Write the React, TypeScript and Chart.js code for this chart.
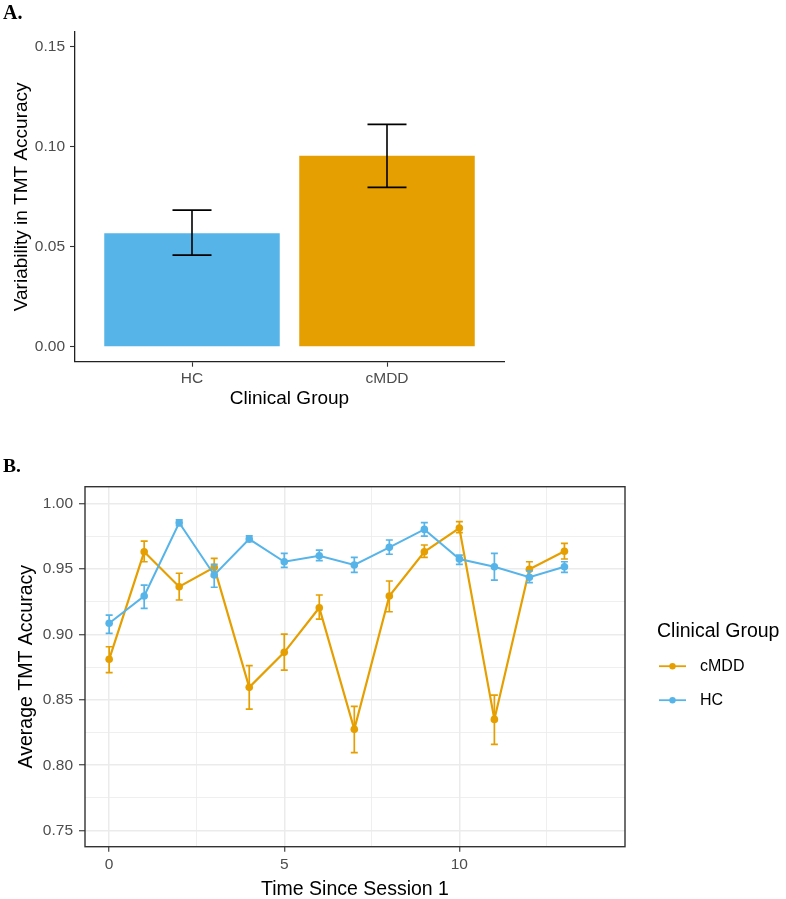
import { useEffect, useRef } from "react";
import { Chart, registerables } from "chart.js";

Chart.register(...registerables);

// Panel A: between-session variability per clinical group
const groups = ["HC", "cMDD"];
const groupPos = [1, 2];
const variability = [0.0567, 0.0955];
const variabilityLo = [0.0458, 0.0797];
const variabilityHi = [0.0683, 0.1112];

// Panel B: mean TMT accuracy per session
const sessions = [0, 1, 2, 3, 4, 5, 6, 7, 8, 9, 10, 11, 12, 13];
const mddMean = [0.8809, 0.963, 0.9363, 0.9511, 0.8595, 0.8862, 0.9203, 0.8274, 0.9292, 0.963, 0.9811, 0.835, 0.9496, 0.9634];
const mddLo = [0.8707, 0.9554, 0.9262, 0.9442, 0.8429, 0.8727, 0.9116, 0.8096, 0.9172, 0.9588, 0.9776, 0.816, 0.944, 0.9575];
const mddHi = [0.8905, 0.9712, 0.9466, 0.958, 0.876, 0.9002, 0.93, 0.8449, 0.9407, 0.9682, 0.986, 0.8536, 0.9554, 0.9694];
const hcMean = [0.9084, 0.9292, 0.9852, 0.9453, 0.9727, 0.9554, 0.96, 0.9529, 0.9664, 0.9801, 0.9575, 0.9516, 0.9435, 0.9516];
const hcLo = [0.9007, 0.9198, 0.9829, 0.9359, 0.9707, 0.9511, 0.9562, 0.9473, 0.9611, 0.975, 0.9534, 0.9414, 0.9394, 0.9473];
const hcHi = [0.9147, 0.9376, 0.9873, 0.9534, 0.9752, 0.9618, 0.9643, 0.9588, 0.972, 0.9852, 0.9605, 0.9618, 0.9485, 0.9554];

const BLUE = "#56B4E9";
const ORANGE = "#E69F00";
const groupColors = [BLUE, ORANGE];
const SANS = "'Liberation Sans', Arial, sans-serif";
const TICK_GREY = "#4d4d4d";

const isMultiple = (v: number, step: number) => Math.abs(v / step - Math.round(v / step)) < 1e-6;

function BarPanel() {
  const ref = useRef<HTMLCanvasElement | null>(null);
  useEffect(() => {
    const errorBars = {
      id: "groupErrorBars",
      afterDatasetsDraw(chart: any) {
        const { ctx } = chart;
        const xs = chart.scales.x;
        const ys = chart.scales.y;
        ctx.save();
        ctx.strokeStyle = "#000";
        ctx.lineWidth = 1.6;
        groupPos.forEach((g, i) => {
          const xc = xs.getPixelForValue(g);
          const xl = xs.getPixelForValue(g - 0.1);
          const xr = xs.getPixelForValue(g + 0.1);
          const yl = ys.getPixelForValue(variabilityLo[i]);
          const yh = ys.getPixelForValue(variabilityHi[i]);
          ctx.beginPath();
          ctx.moveTo(xc, yl);
          ctx.lineTo(xc, yh);
          ctx.moveTo(xl, yh);
          ctx.lineTo(xr, yh);
          ctx.moveTo(xl, yl);
          ctx.lineTo(xr, yl);
          ctx.stroke();
        });
        ctx.restore();
      },
    };

    const chart = new Chart(ref.current as HTMLCanvasElement, {
      type: "bar",
      data: {
        datasets: [
          {
            label: "Variability",
            data: groupPos.map((x, i) => ({ x, y: variability[i] })),
            backgroundColor: groupColors,
            borderWidth: 0,
            barPercentage: 0.9,
            categoryPercentage: 1,
          },
        ],
      },
      options: {
        animation: false,
        responsive: false,
        events: [],
        layout: { padding: { top: 32, right: 282, bottom: 0, left: 0 } },
        plugins: { legend: { display: false }, tooltip: { enabled: false } },
        scales: {
          x: {
            type: "linear",
            offset: false,
            min: 0.4,
            max: 2.6,
            afterFit: (s: any) => {
              s.height = 58.3;
            },
            ticks: {
              stepSize: 1,
              includeBounds: false,
              autoSkip: false,
              maxRotation: 0,
              padding: 3,
              color: TICK_GREY,
              font: { family: SANS, size: 15.5 },
              callback: (v: any) => {
                const i = groupPos.indexOf(Number(v));
                return i >= 0 ? groups[i] : "";
              },
            },
            grid: {
              offset: false,
              drawOnChartArea: false,
              drawTicks: true,
              tickLength: 5,
              tickColor: "#333",
              tickWidth: 1.1,
            },
            border: { display: true, color: "#222", width: 1.3 },
            title: {
              display: true,
              text: "Clinical Group",
              color: "#000",
              font: { family: SANS, size: 19, lineHeight: 1 },
              padding: { top: 0, bottom: 11.5 },
            },
          },
          y: {
            type: "linear",
            min: -0.0075,
            max: 0.1574,
            afterFit: (s: any) => {
              s.width = 75;
            },
            ticks: {
              stepSize: 0.05,
              includeBounds: false,
              padding: 5,
              color: TICK_GREY,
              font: { family: SANS, size: 15.5 },
              callback: (v: any) => Number(v).toFixed(2),
            },
            grid: { drawOnChartArea: false, drawTicks: true, tickLength: 5, tickColor: "#333", tickWidth: 1.1 },
            border: { display: true, color: "#222", width: 1.3 },
            title: {
              display: true,
              text: "Variability in TMT Accuracy",
              color: "#000",
              font: { family: SANS, size: 19, lineHeight: 1.2 },
              padding: { top: 10.3, bottom: 0 },
            },
          },
        },
      } as any,
      plugins: [errorBars],
    });
    return () => chart.destroy();
  }, []);
  return (
    <canvas
      ref={ref}
      width={786}
      height={420}
      style={{ position: "absolute", left: 0, top: 0, width: 786, height: 420 }}
    />
  );
}

function LinePanel() {
  const ref = useRef<HTMLCanvasElement | null>(null);
  useEffect(() => {
    const ranges: Record<string, [number[], number[]]> = {
      cMDD: [mddLo, mddHi],
      HC: [hcLo, hcHi],
    };

    const sessionErrorBars = {
      id: "sessionErrorBars",
      afterDatasetDraw(chart: any, args: any) {
        const ds = chart.data.datasets[args.index];
        const r = ranges[ds.label];
        if (!r) return;
        const { ctx } = chart;
        const xs = chart.scales.x;
        const ys = chart.scales.y;
        ctx.save();
        ctx.strokeStyle = ds.borderColor;
        ctx.lineWidth = 1.7;
        sessions.forEach((t, i) => {
          const xc = xs.getPixelForValue(t);
          const xl = xs.getPixelForValue(t - 0.1);
          const xr = xs.getPixelForValue(t + 0.1);
          const yl = ys.getPixelForValue(r[0][i]);
          const yh = ys.getPixelForValue(r[1][i]);
          ctx.beginPath();
          ctx.moveTo(xc, yl);
          ctx.lineTo(xc, yh);
          ctx.moveTo(xl, yh);
          ctx.lineTo(xr, yh);
          ctx.moveTo(xl, yl);
          ctx.lineTo(xr, yl);
          ctx.stroke();
        });
        ctx.restore();
      },
    };

    const panelFrame = {
      id: "panelFrame",
      afterDraw(chart: any) {
        const { ctx, chartArea: a } = chart;
        ctx.save();
        ctx.strokeStyle = "#333";
        ctx.lineWidth = 1.4;
        ctx.strokeRect(a.left, a.top, a.right - a.left, a.bottom - a.top);

        // legend on the right of the panel
        const lx = a.right + 32;
        ctx.fillStyle = "#000";
        ctx.textAlign = "left";
        ctx.textBaseline = "middle";
        ctx.font = `19.5px ${SANS}`;
        ctx.fillText("Clinical Group", lx, a.top + 145);
        const order = ["cMDD", "HC"];
        order.forEach((name, k) => {
          const ds = chart.data.datasets.find((d: any) => d.label === name);
          const y = a.top + 179.5 + k * 34;
          ctx.strokeStyle = ds.borderColor;
          ctx.lineWidth = 1.8;
          ctx.beginPath();
          ctx.moveTo(lx + 2, y);
          ctx.lineTo(lx + 29, y);
          ctx.stroke();
          ctx.fillStyle = ds.borderColor;
          ctx.beginPath();
          ctx.arc(lx + 15.5, y, 3.2, 0, Math.PI * 2);
          ctx.fill();
          ctx.fillStyle = "#000";
          ctx.font = `16px ${SANS}`;
          ctx.fillText(name, lx + 43, y);
        });
        ctx.restore();
      },
    };

    const gridColor = "#ebebeb";
    const chart = new Chart(ref.current as HTMLCanvasElement, {
      type: "line",
      data: {
        datasets: [
          {
            label: "cMDD",
            data: sessions.map((x, i) => ({ x, y: mddMean[i] })),
            borderColor: ORANGE,
            backgroundColor: ORANGE,
            pointBackgroundColor: ORANGE,
            borderWidth: 2.2,
            pointRadius: 3.8,
            pointBorderWidth: 0,
            tension: 0,
            order: 2,
          },
          {
            label: "HC",
            data: sessions.map((x, i) => ({ x, y: hcMean[i] })),
            borderColor: BLUE,
            backgroundColor: BLUE,
            pointBackgroundColor: BLUE,
            borderWidth: 2,
            pointRadius: 3.8,
            pointBorderWidth: 0,
            tension: 0,
            order: 1,
          },
        ],
      },
      options: {
        animation: false,
        responsive: false,
        events: [],
        layout: { padding: { top: 66.7, right: 161, bottom: 0, left: 0 } },
        plugins: { legend: { display: false }, tooltip: { enabled: false } },
        scales: {
          x: {
            type: "linear",
            min: -0.69,
            max: 14.73,
            afterFit: (s: any) => {
              s.height = 52.3;
            },
            ticks: {
              stepSize: 2.5,
              includeBounds: false,
              autoSkip: false,
              maxRotation: 0,
              padding: 4,
              color: TICK_GREY,
              font: { family: SANS, size: 15.5 },
              callback: (v: any) => (isMultiple(Number(v), 5) ? String(Math.round(Number(v))) : ""),
            },
            grid: {
              drawOnChartArea: true,
              drawTicks: true,
              tickLength: 5,
              color: gridColor,
              lineWidth: (c: any) => (isMultiple(c.tick.value, 5) ? 1.5 : 0.8),
              tickColor: (c: any) => (isMultiple(c.tick.value, 5) ? "#333" : "rgba(0,0,0,0)"),
              tickWidth: 1.1,
            },
            border: { display: false },
            title: {
              display: true,
              text: "Time Since Session 1",
              color: "#000",
              font: { family: SANS, size: 19.5, lineHeight: 1 },
              padding: { top: 0, bottom: 0 },
            },
          },
          y: {
            type: "linear",
            min: 0.7378,
            max: 1.0127,
            afterFit: (s: any) => {
              s.width = 85;
            },
            ticks: {
              stepSize: 0.025,
              includeBounds: false,
              padding: 6,
              color: TICK_GREY,
              font: { family: SANS, size: 15.5 },
              callback: (v: any) => (isMultiple(Number(v), 0.05) ? Number(v).toFixed(2) : ""),
            },
            grid: {
              drawOnChartArea: true,
              drawTicks: true,
              tickLength: 6,
              color: gridColor,
              lineWidth: (c: any) => (isMultiple(c.tick.value, 0.05) ? 1.5 : 0.8),
              tickColor: (c: any) => (isMultiple(c.tick.value, 0.05) ? "#333" : "rgba(0,0,0,0)"),
              tickWidth: 1.1,
            },
            border: { display: false },
            title: {
              display: true,
              text: "Average TMT Accuracy",
              color: "#000",
              font: { family: SANS, size: 19.5, lineHeight: 1.2 },
              padding: { top: 15, bottom: 0 },
            },
          },
        },
      } as any,
      plugins: [sessionErrorBars, panelFrame],
    });
    return () => chart.destroy();
  }, []);
  return (
    <canvas
      ref={ref}
      width={786}
      height={479}
      style={{ position: "absolute", left: 0, top: 420, width: 786, height: 479 }}
    />
  );
}

const panelTag = {
  position: "absolute" as const,
  left: 3,
  fontFamily: "'Liberation Serif', 'Times New Roman', serif",
  fontWeight: 700,
  lineHeight: 1,
  color: "#000",
};

export default function App() {
  return (
    <div style={{ position: "absolute", left: 0, top: 0, width: 786, height: 899, background: "#fff" }}>
      <BarPanel />
      <LinePanel />
      <div style={{ ...panelTag, top: 2, fontSize: 20 }}>A.</div>
      <div style={{ ...panelTag, top: 455.5, fontSize: 19.5 }}>B.</div>
    </div>
  );
}
